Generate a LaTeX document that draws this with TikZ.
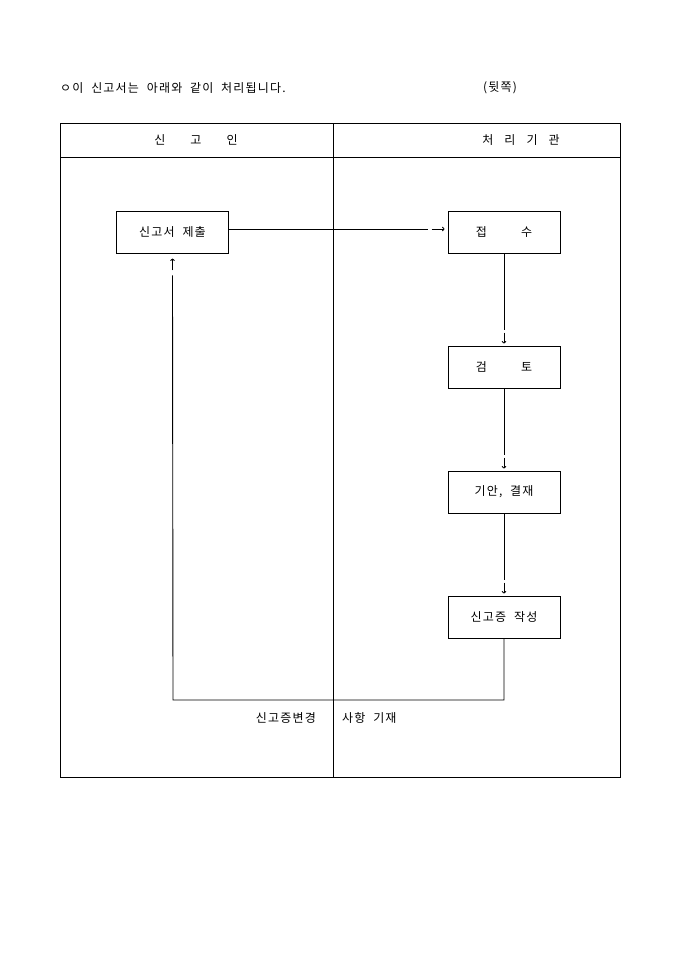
\documentclass[tikz,border=0pt]{standalone}
\usepackage{fontspec}
\setmainfont[LetterSpace=10,WordSpace=2]{Noto Sans CJK KR}
\usetikzlibrary{arrows.meta,calc}
\tikzset{
  box/.style={draw, line width=0.9pt, minimum width=112pt, minimum height=42pt, inner sep=0pt, font=\fontsize{12}{14}\selectfont},
  conn/.style={line width=0.9pt},
  tip/.style={line width=0.8pt, -{To[length=2.5pt,width=4.5pt]}},
  txt/.style={inner sep=0pt, font=\fontsize{12}{14}\selectfont},
}
\begin{document}
\begin{tikzpicture}[x=1pt,y=-1pt]
\useasboundingbox (0,0) rectangle (680,962);
% title
\node[txt, anchor=west] (title) at (60,88) {ㅇ이 신고서는 아래와 같이 처리됩니다.};
\node[txt] (side) at (500,88) {(뒷쪽)};
% table
\draw[line width=0.9pt] (60,123) rectangle (620,777);
\draw[line width=0.9pt] (60,157) -- (620,157);
\draw[line width=0.9pt] (333,123) -- (333,777);
\node[txt] (h1) at (196,140) {신\hspace{25pt}고\hspace{25pt}인};
\node[txt] (h2) at (521,140) {처\hspace{11pt}리\hspace{11pt}기\hspace{11pt}관};
% boxes
\node[box] (submit) at (172.5,232) {신고서 제출};
\node[box] (recv) at (504,232) {접\hspace{34pt}수};
\node[box] (review) at (504,367) {검\hspace{34pt}토};
\node[box] (draft) at (504,492) {기안, 결재};
\node[box] (issue) at (504,617) {신고증 작성};
% submit -> recv
\coordinate (a1) at ($(recv.west)+(-20,-3)$);
\coordinate (a2) at ($(recv.west)+(-16,-3)$);
\coordinate (a3) at ($(recv.west)+(-3,-3)$);
\draw[conn] ($(submit.east)+(0,-3)$) -- (a1);
\draw[tip] (a2) -- (a3);
% vertical flow
\foreach \u/\v in {recv/review, review/draft, draft/issue}{
  \coordinate (e\v) at ($(\v.north)+(0,-16)$);
  \coordinate (s\v) at ($(\v.north)+(0,-13)$);
  \coordinate (t\v) at ($(\v.north)+(0,-2)$);
  \draw[conn] (\u.south) -- (e\v);
  \draw[tip] (s\v) -- (t\v);
}
% return path
\coordinate (r1) at (504,700);
\coordinate (r2) at (173,700);
\coordinate (r3) at ($(submit.south)+(0,22)$);
\coordinate (r4) at ($(submit.south)+(0,17)$);
\coordinate (r5) at ($(submit.south)+(0,5)$);
\draw[conn] (issue.south) -- (r1) -- (r2) -- (r3);
\draw[tip] (r4) -- (r5);
% bottom labels
\node[txt, anchor=east] (l1) at (316,718) {신고증변경};
\node[txt, anchor=west] (l2) at (342,718) {사항 기재};
\end{tikzpicture}
\end{document}
